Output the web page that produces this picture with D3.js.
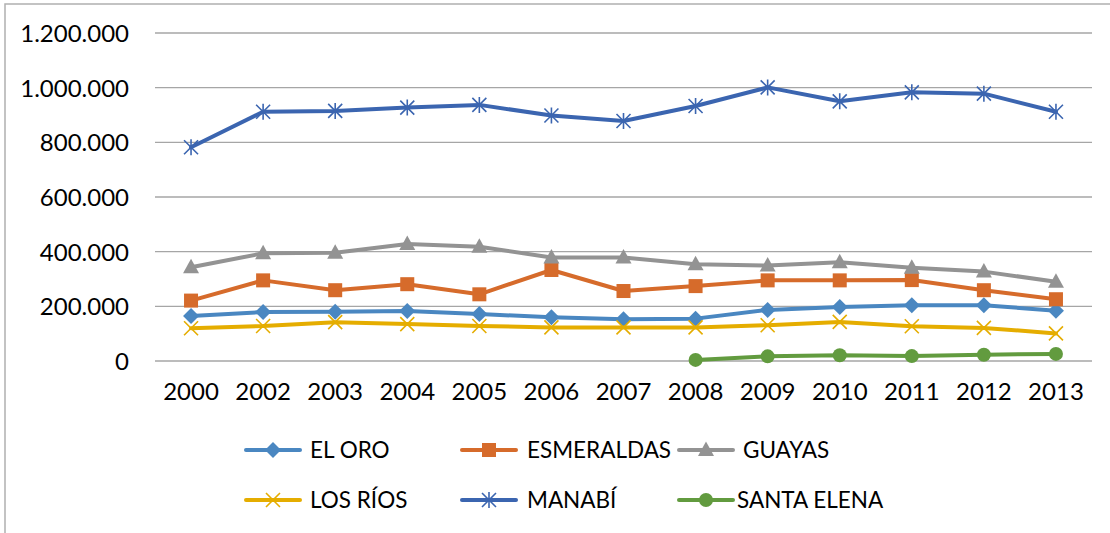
<!DOCTYPE html>
<html><head><meta charset="utf-8">
<script src="https://cdn.jsdelivr.net/npm/d3@7"></script>
<style>body{margin:0;background:#fff;}svg{display:block;}</style>
</head><body>
<script>
const years = ["2000","2002","2003","2004","2005","2006","2007","2008","2009","2010","2011","2012","2013"];
const yTicks = [0,200000,400000,600000,800000,1000000,1200000];
const elOro      = [165000,179000,180000,183000,172000,160000,153000,155000,187000,198000,204000,204000,184000];
const esmeraldas = [221000,295000,259000,281000,244000,333000,256000,274000,295000,295000,296000,259000,226000];
const guayas     = [343000,394000,396000,428000,418000,379000,379000,354000,349000,361000,341000,327000,290000];
const losRios    = [120000,128000,142000,135000,128000,123000,123000,123000,131000,143000,127000,121000,101000];
const manabi     = [782000,912000,915000,927000,937000,898000,878000,933000,1001000,950000,983000,978000,912000];
const santaElena = [null,null,null,null,null,null,null,4000,17000,21000,18000,23000,26000];

const series = [
  {name:"EL ORO", values:elOro, color:"#4a87c1", marker:"diamond"},
  {name:"ESMERALDAS", values:esmeraldas, color:"#d66b2b", marker:"square"},
  {name:"GUAYAS", values:guayas, color:"#939393", marker:"triangle"},
  {name:"LOS RÍOS", values:losRios, color:"#e5ad00", marker:"x"},
  {name:"MANABÍ", values:manabi, color:"#3b65b0", marker:"star"},
  {name:"SANTA ELENA", values:santaElena, color:"#629b3f", marker:"circle"}
];

const W=1110,H=533;
const svg=d3.select("body").append("svg").attr("width",W).attr("height",H);
const font="Lato, 'Open Sans', sans-serif";
const fs=24, lfs=22.5;

// chart border
svg.append("rect").attr("x",5).attr("y",4).attr("width",W+10).attr("height",H+10)
  .attr("fill","none").attr("stroke","#b0b0b0").attr("stroke-width",1.5);

const x=d3.scaleBand().domain(years).range([155,1092]);
const y=d3.scaleLinear().domain([0,1200000]).range([361,33]);

const fmt=v=>d3.format(",")(v).replace(/,/g,".");

// gridlines
svg.append("g").selectAll("line").data(yTicks).join("line")
  .attr("x1",155).attr("x2",1092).attr("y1",d=>y(d)).attr("y2",d=>y(d))
  .attr("stroke","#a6a6a6").attr("stroke-width",1.4);

// y axis labels
const yAxis=d3.axisLeft(y).tickValues(yTicks).tickFormat(fmt).tickSize(0).tickPadding(0);
const gy=svg.append("g").attr("transform","translate(129,0)").call(yAxis);
gy.select(".domain").remove();
gy.selectAll("text").attr("font-family",font).attr("font-size",fs).attr("fill","#000").attr("dy","0.35em");

// x axis labels
const xAxis=d3.axisBottom(x).tickSize(0).tickPadding(0);
const gx=svg.append("g").attr("transform","translate(0,383)").call(xAxis);
gx.select(".domain").remove();
gx.selectAll("text").attr("font-family",font).attr("font-size",fs).attr("fill","#000").attr("dy","0.71em");

function drawMarker(g,type,color){
  switch(type){
    case "diamond": g.append("path").attr("d","M0,-8L8,0L0,8L-8,0Z").attr("fill",color); break;
    case "square": g.append("rect").attr("x",-7).attr("y",-7).attr("width",14).attr("height",14).attr("fill",color); break;
    case "triangle": g.append("path").attr("d","M0,-8.5L8,6L-8,6Z").attr("fill",color); break;
    case "x": g.append("path").attr("d","M-7,-7L7,7M-7,7L7,-7").attr("stroke",color).attr("stroke-width",1.6).attr("fill","none"); break;
    case "star": g.append("path").attr("d","M-7,-7L7,7M-7,7L7,-7M0,-8L0,8").attr("stroke",color).attr("stroke-width",1.6).attr("fill","none"); break;
    case "circle": g.append("circle").attr("r",7).attr("fill",color); break;
  }
}

const line=d3.line().defined(d=>d.v!=null).x(d=>x(d.year)+x.bandwidth()/2).y(d=>y(d.v));
series.forEach(s=>{
  const pts=years.map((yr,i)=>({year:yr,v:s.values[i]}));
  svg.append("path").datum(pts).attr("d",line).attr("fill","none")
    .attr("stroke",s.color).attr("stroke-width",4).attr("stroke-linejoin","round").attr("stroke-linecap","round");
  pts.filter(d=>d.v!=null).forEach(d=>{
    const g=svg.append("g").attr("transform",`translate(${x(d.year)+x.bandwidth()/2},${y(d.v)})`);
    drawMarker(g,s.marker,s.color);
  });
});

// legend
const legPos=[[246,450],[462,450],[679,450],[246,500],[462,500],[679,500]];
const textOff=[64,65,64,64,65,58];
series.forEach((s,i)=>{
  const [lx,ly]=legPos[i];
  const g=svg.append("g").attr("transform",`translate(${lx},${ly})`);
  g.append("line").attr("x1",0).attr("x2",54).attr("y1",0).attr("y2",0)
    .attr("stroke",s.color).attr("stroke-width",4).attr("stroke-linecap","round");
  const m=g.append("g").attr("transform","translate(27,0)");
  drawMarker(m,s.marker,s.color);
  g.append("text").attr("x",textOff[i]).attr("y",0).attr("dy","0.35em")
    .attr("font-family",font).attr("font-size",lfs).attr("fill","#000").text(s.name);
});
</script>
</body></html>
